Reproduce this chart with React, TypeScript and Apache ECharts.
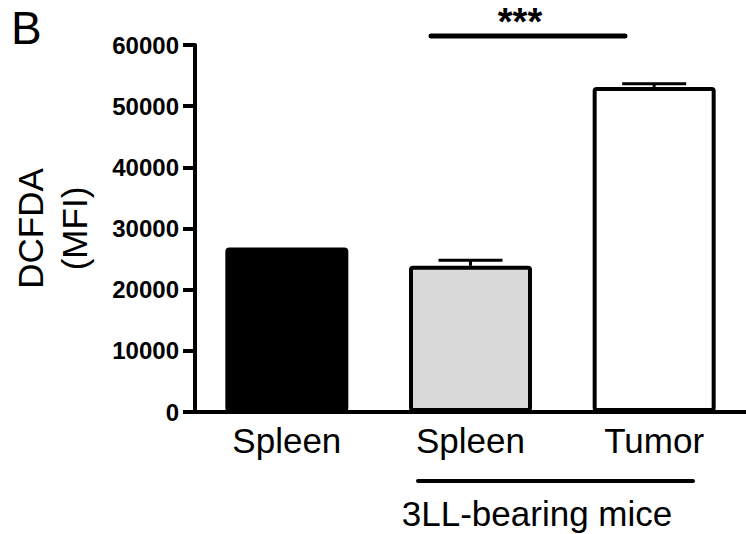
import React, { useEffect, useRef } from "react";
import * as echarts from "echarts";

const categories = ["Spleen", "Spleen", "Tumor"];
const values = [26900, 23900, 53150];
const errors = [0, 900, 500];
const barColors = ["#000000", "#d9d9d9", "#ffffff"];
const yTicks = { min: 0, max: 60000, interval: 10000 };
const groupLabel = "3LL-bearing mice";
const yName = "DCFDA\n(MFI)";
const sigText = "***";
const panelLetter = "B";

const FONT = "'Liberation Sans', Arial, Helvetica, sans-serif";

export default function App() {
  const ref = useRef<HTMLDivElement>(null);
  useEffect(() => {
    if (!ref.current) return;
    const chart = echarts.init(ref.current, null, { renderer: "svg" });
    const errData = values.map((v, i) => [i, v, v + errors[i]]);
    chart.setOption({
      animation: false,
      backgroundColor: "#ffffff",
      grid: { left: 195, right: 0, top: 45, bottom: 122, containLabel: false, outerBoundsMode: "none" },
      xAxis: {
        type: "category",
        data: categories,
        boundaryGap: true,
        axisLine: { lineStyle: { color: "#000", width: 4 } },
        axisTick: { alignWithLabel: true, length: 8, lineStyle: { color: "#000", width: 4 } },
        axisLabel: { color: "#000", fontSize: 35, fontFamily: FONT, margin: 11 },
      },
      yAxis: {
        type: "value",
        min: yTicks.min,
        max: yTicks.max,
        interval: yTicks.interval,
        name: yName,
        nameLocation: "middle",
        nameRotate: 90,
        nameGap: 99,
        nameTextStyle: { color: "#000", fontSize: 35, fontFamily: FONT, lineHeight: 44 },
        splitLine: { show: false },
        axisLine: { show: true, lineStyle: { color: "#000", width: 4 } },
        axisTick: { show: true, length: 12, lineStyle: { color: "#000", width: 4 } },
        axisLabel: {
          color: "#000",
          fontSize: 24,
          fontWeight: "bold",
          fontFamily: FONT,
          margin: 16,
          formatter: (v: number) => String(v),
        },
      },
      series: [
        {
          type: "bar",
          data: values.map((v, i) => ({
            value: v,
            itemStyle: { color: barColors[i], borderColor: "#000", borderWidth: 4, borderRadius: 2 },
          })),
          barWidth: 123,
          z: 2,
        },
        {
          type: "custom",
          data: errData,
          z: 3,
          renderItem: (params: any, api: any) => {
            const i = api.value(0);
            const lo = api.coord([i, api.value(1)]);
            const hi = api.coord([i, api.value(2)]);
            if (Math.abs(lo[1] - hi[1]) < 0.5) return { type: "group", children: [] };
            const half = 32;
            const style = { stroke: "#000", lineWidth: 3 };
            return {
              type: "group",
              children: [
                { type: "line", shape: { x1: lo[0], y1: lo[1], x2: hi[0], y2: hi[1] }, style },
                { type: "line", shape: { x1: hi[0] - half, y1: hi[1], x2: hi[0] + half, y2: hi[1] }, style },
              ],
            };
          },
        },
      ],
      graphic: [
        {
          type: "text",
          left: 11,
          top: 5,
          style: { text: panelLetter, fontSize: 46, fontFamily: FONT, fill: "#000" },
        },
        {
          type: "line",
          shape: { x1: 431, y1: 36, x2: 625, y2: 36 },
          style: { stroke: "#000", lineWidth: 5, lineCap: "round" },
        },
        {
          type: "text",
          x: 520,
          y: 22,
          style: { text: sigText, fontSize: 38, fontWeight: "bold", fontFamily: FONT, fill: "#000", align: "center", verticalAlign: "middle" },
        },
        {
          type: "line",
          shape: { x1: 418, y1: 481, x2: 693, y2: 481 },
          style: { stroke: "#000", lineWidth: 4, lineCap: "round" },
        },
        {
          type: "text",
          x: 537,
          y: 513,
          style: { text: groupLabel, fontSize: 35, fontFamily: FONT, fill: "#000", align: "center", verticalAlign: "middle" },
        },
      ],
    });
    return () => chart.dispose();
  }, []);
  return <div ref={ref} style={{ width: 746, height: 534, position: "absolute", left: 0, top: 0 }} />;
}
